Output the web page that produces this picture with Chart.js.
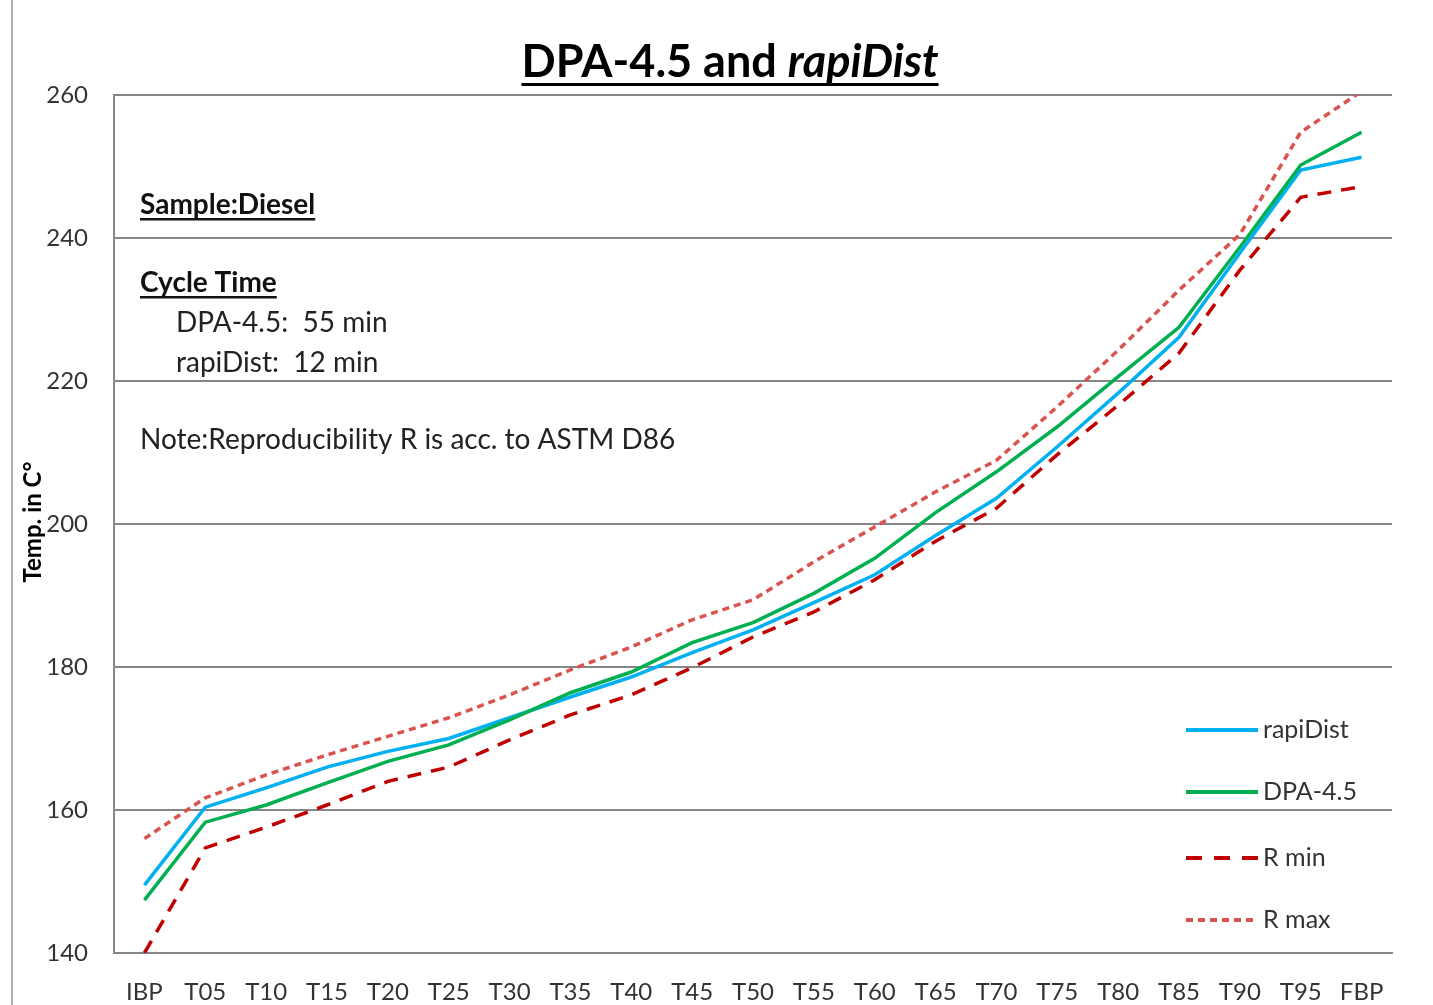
<!DOCTYPE html>
<html>
<head>
<meta charset="utf-8">
<script src="https://cdn.jsdelivr.net/npm/chart.js@4.4.1/dist/chart.umd.min.js"></script>
<style>
  html, body { margin: 0; padding: 0; background: #fff; }
  #wrap { width: 1433px; height: 1005px; position: relative; }
</style>
</head>
<body>
<div id="wrap"><canvas id="chart"></canvas></div>
<script>
// distillation points
var labels = ['IBP', 'T05', 'T10', 'T15', 'T20', 'T25', 'T30', 'T35', 'T40', 'T45', 'T50',
  'T55', 'T60', 'T65', 'T70', 'T75', 'T80', 'T85', 'T90', 'T95', 'FBP'];

var rapiDist = [149.5, 160.4, 163.1, 166.0, 168.2, 170.0, 172.9, 175.8, 178.6, 182.0, 185.2,
  189.0, 192.9, 198.4, 203.6, 210.8, 218.3, 226.1, 237.9, 249.5, 251.3];
var dpa45 = [147.4, 158.3, 160.7, 163.8, 166.8, 169.1, 172.6, 176.4, 179.3, 183.4, 186.2,
  190.3, 195.2, 201.6, 207.3, 213.6, 220.6, 227.5, 238.7, 250.2, 254.8];
var rMin = [140.0, 154.7, 157.6, 160.7, 164.0, 166.0, 169.8, 173.3, 176.1, 179.9, 184.2,
  187.7, 192.2, 197.6, 202.2, 209.7, 216.6, 223.9, 235.5, 245.7, 247.2];
var rMax = [156.0, 161.7, 164.9, 167.7, 170.3, 172.9, 176.1, 179.6, 182.8, 186.6, 189.4,
  194.7, 199.6, 204.5, 208.9, 216.4, 224.3, 232.7, 240.5, 254.8, 260.5];

var yMin = 140, yMax = 260, yStep = 20;

var FONT = 'Lato, "Open Sans", sans-serif';
var BLUE = '#00b0f0', GREEN = '#00b050', DARKRED = '#c00000', LIGHTRED = '#d9534f';

var legendItems = [
  { text: 'rapiDist', color: BLUE, dash: [] },
  { text: 'DPA-4.5', color: GREEN, dash: [] },
  { text: 'R min', color: DARKRED, dash: [16, 12] },
  { text: 'R max', color: LIGHTRED, dash: [7, 5] }
];

function underlined(ctx, text, x, y, font) {
  ctx.font = font;
  ctx.fillText(text, x, y);
  var w = ctx.measureText(text).width;
  ctx.fillRect(x, y + 4, w, 2.5);
}

var decorations = {
  id: 'decorations',
  afterDraw: function (chart) {
    var ctx = chart.ctx;
    ctx.save();

    // outer frame line at the left
    ctx.strokeStyle = '#b0b0b0';
    ctx.lineWidth = 2;
    ctx.beginPath();
    ctx.moveTo(12, 0);
    ctx.lineTo(12, 1005);
    ctx.stroke();

    // title with italic part
    ctx.fillStyle = '#000';
    ctx.textBaseline = 'alphabetic';
    var f1 = 'bold 45px ' + FONT, f2 = 'italic bold 45px ' + FONT;
    ctx.font = f1;
    var a = 'DPA-4.5 and ';
    var wa = ctx.measureText(a).width;
    ctx.font = f2;
    var b = 'rapiDist';
    var wb = ctx.measureText(b).width;
    var tx = 730 - (wa + wb) / 2, ty = 77;
    ctx.font = f1;
    ctx.fillText(a, tx, ty);
    ctx.font = f2;
    ctx.fillText(b, tx + wa, ty);
    ctx.fillRect(tx, ty + 6, wa + wb, 3);

    // notes inside the plot
    ctx.fillStyle = '#111';
    underlined(ctx, 'Sample:Diesel', 140, 214, 'bold 28px ' + FONT);
    underlined(ctx, 'Cycle Time', 140, 292, 'bold 28px ' + FONT);
    ctx.fillStyle = '#222';
    ctx.font = '28px ' + FONT;
    ctx.fillText('DPA-4.5:  55 min', 176, 332);
    ctx.fillText('rapiDist:  12 min', 176, 372);
    ctx.fillText('Note:Reproducibility R is acc. to ASTM D86', 140, 449);

    // y axis title
    ctx.save();
    ctx.translate(41, 522);
    ctx.rotate(-Math.PI / 2);
    ctx.textAlign = 'center';
    ctx.fillStyle = '#000';
    ctx.font = 'bold 24px ' + FONT;
    ctx.fillText('Temp. in C\u00b0', 0, 0);
    ctx.restore();

    // legend
    ctx.font = '25px ' + FONT;
    ctx.textBaseline = 'middle';
    legendItems.forEach(function (it, i) {
      var y = [730, 792, 858, 920][i];
      ctx.strokeStyle = it.color;
      ctx.lineWidth = 4;
      ctx.setLineDash(it.dash);
      ctx.beginPath();
      ctx.moveTo(1186, y);
      ctx.lineTo(1258, y);
      ctx.stroke();
      ctx.setLineDash([]);
      ctx.fillStyle = '#333';
      ctx.fillText(it.text, 1263, y);
    });

    ctx.restore();
  }
};

function line(label, data, color, dash) {
  return {
    label: label,
    data: data,
    borderColor: color,
    backgroundColor: color,
    borderWidth: 3.5,
    borderDash: dash,
    pointRadius: 0,
    fill: false,
    tension: 0
  };
}

new Chart(document.getElementById('chart'), {
  type: 'line',
  data: {
    labels: labels,
    datasets: [
      line('R max', rMax, LIGHTRED, [7, 5]),
      line('R min', rMin, DARKRED, [14, 10]),
      line('DPA-4.5', dpa45, GREEN, []),
      line('rapiDist', rapiDist, BLUE, [])
    ]
  },
  options: {
    responsive: true,
    maintainAspectRatio: false,
    animation: false,
    layout: { padding: { left: 0, top: 95, right: 41, bottom: 0 } },
    plugins: { legend: { display: false }, tooltip: { enabled: false } },
    scales: {
      x: {
        offset: true,
        grid: { display: false, drawTicks: false },
        border: { display: true, color: '#868686', width: 2 },
        ticks: { color: '#333', font: { family: FONT, size: 24 }, padding: 25, maxRotation: 0, autoSkip: false },
        afterFit: function (s) { s.height = 52; }
      },
      y: {
        min: yMin,
        max: yMax,
        grid: { color: '#868686', lineWidth: 2, drawTicks: false },
        border: { display: true, color: '#868686', width: 2 },
        ticks: { stepSize: yStep, color: '#333', font: { family: FONT, size: 24 }, padding: 26 },
        afterFit: function (s) { s.width = 114; }
      }
    }
  },
  plugins: [decorations]
});
</script>
</body>
</html>
